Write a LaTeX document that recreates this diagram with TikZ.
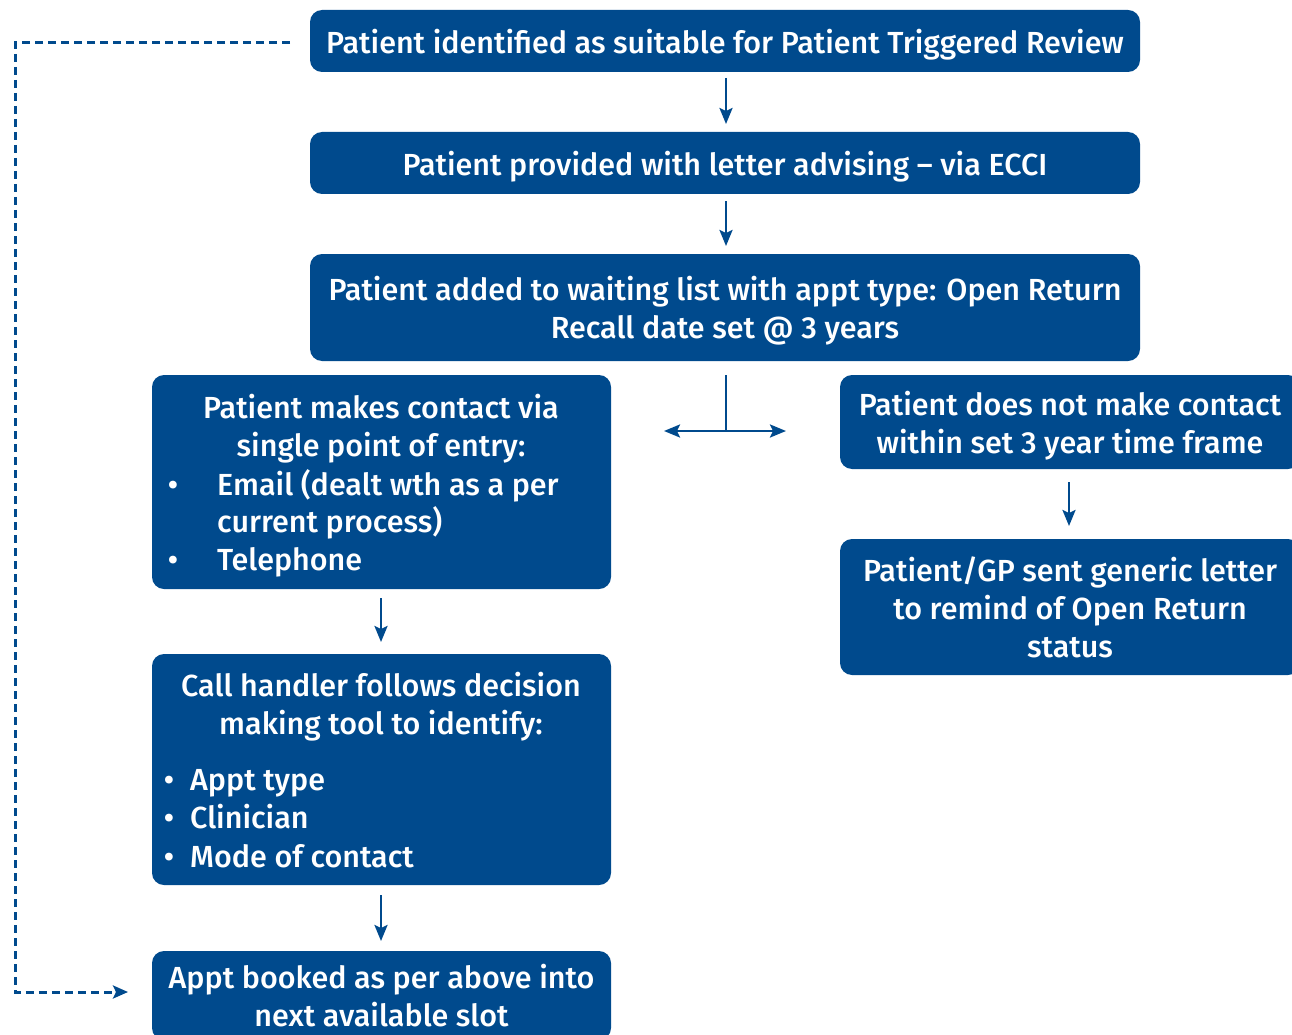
\documentclass[tikz,border=0pt]{standalone}
\usepackage{fontspec}
\setmainfont{Fira Sans Medium}
\usetikzlibrary{arrows.meta}
\definecolor{nhsblue}{RGB}{0,74,141}
\begin{document}
\begin{tikzpicture}[x=1pt,y=-1pt,
  box/.style={fill=nhsblue, rounded corners=12pt, inner sep=0pt, text=white, align=center, text depth=0pt, font=\fontsize{30.5}{38}\selectfont},
  txt/.style={text=white, inner sep=0pt, font=\fontsize{30.5}{38}\selectfont},
  arr/.style={draw=nhsblue, line width=2.5pt, -{Stealth[length=16pt,width=13pt,inset=3pt]}},
  dasharr/.style={draw=nhsblue, line width=3pt, dash pattern=on 8pt off 5pt, -{Stealth[length=15pt,width=13pt,inset=3pt]}}]
\useasboundingbox (0,0) rectangle (1292,1035);
% boxes
\node[box, minimum width=830, minimum height=62] (b1) at (725,41) {Patient identified as suitable for Patient Triggered Review};
\node[box, minimum width=830, minimum height=62] (b2) at (725,163) {Patient provided with letter advising -- via ECCI};
\node[box, minimum width=830, minimum height=107] (b3) at (725,307.5) {Patient added to waiting list with appt type: Open Return\\Recall date set @ 3 years};
\node[box, minimum width=459, minimum height=214] (b4) at (381.5,482) {};
\node[box, minimum width=460, minimum height=94] (b5) at (1070,422) {Patient does not make contact\\within set 3 year time frame};
\node[box, minimum width=460, minimum height=136] (b6) at (1070,607) {Patient/GP sent generic letter\\to remind of Open Return\\status};
\node[box, minimum width=459, minimum height=231] (b7) at (381.5,769.5) {};
\node[box, minimum width=459, minimum height=89] (b8) at (381.5,995.5) {Appt booked as per above into\\next available slot};
% bullet box texts
\node[txt, anchor=base] (t41) at (381,418) {Patient makes contact via};
\node[txt, anchor=base] (t42) at (381,456) {single point of entry:};
\node[txt, anchor=base] (t43) at (173,495) {\textbullet};
\node[txt, anchor=base west] (t44) at (217,495) {Email (dealt wth as a per};
\node[txt, anchor=base west] (t45) at (217,532) {current process)};
\node[txt, anchor=base] (t46) at (173,570) {\textbullet};
\node[txt, anchor=base west] (t47) at (217,570) {Telephone};
\node[txt, anchor=base] (t71) at (381,696) {Call handler follows decision};
\node[txt, anchor=base] (t72) at (381,734) {making tool to identify:};
\node[txt, anchor=base] (t73) at (169,790) {\textbullet};
\node[txt, anchor=base west] (t74) at (190,790) {Appt type};
\node[txt, anchor=base] (t75) at (169,828) {\textbullet};
\node[txt, anchor=base west] (t76) at (190,828) {Clinician};
\node[txt, anchor=base] (t77) at (169,867) {\textbullet};
\node[txt, anchor=base west] (t78) at (190,867) {Mode of contact};
% arrow end points
\coordinate (a1s) at (726,78);  \coordinate (a1e) at (726,124);
\coordinate (a2s) at (726,201); \coordinate (a2e) at (726,246);
\coordinate (a3s) at (1069,482); \coordinate (a3e) at (1069,526);
\coordinate (a4s) at (381,598); \coordinate (a4e) at (381,642);
\coordinate (a5s) at (381,895); \coordinate (a5e) at (381,941);
\draw[arr] (a1s) -- (a1e);
\draw[arr] (a2s) -- (a2e);
\draw[arr] (a3s) -- (a3e);
\draw[arr] (a4s) -- (a4e);
\draw[arr] (a5s) -- (a5e);
\coordinate (tTop) at (726,375);
\coordinate (tMid) at (726,431);
\coordinate (tL) at (664,431);
\coordinate (tR) at (786,431);
\draw[draw=nhsblue, line width=2.5pt] (tTop) -- (tMid);
\draw[arr, {Stealth[length=16pt,width=13pt,inset=3pt]}-{Stealth[length=16pt,width=13pt,inset=3pt]}] (tL) -- (tR);
% dashed feedback
\coordinate (dStart) at (290,43);
\coordinate (dEnd) at (128,992);
\draw[dasharr] (dStart) -- (15,43) -- (15,992) -- (dEnd);
\end{tikzpicture}
\end{document}
